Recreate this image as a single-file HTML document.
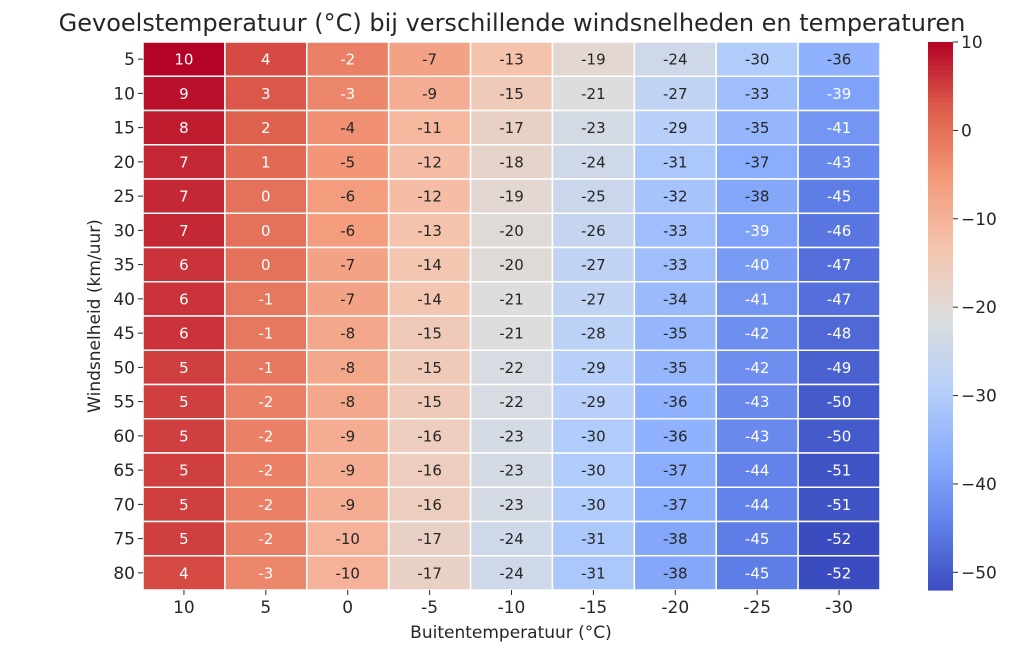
<!DOCTYPE html>
<html><head><meta charset="utf-8"><style>
body{margin:0;background:#fff;font-family:"Liberation Sans","DejaVu Sans",sans-serif}
</style></head><body>
<svg id="chart" width="1024" height="655" viewBox="0 0 1024 655" xmlns="http://www.w3.org/2000/svg" font-family="DejaVu Sans, Liberation Sans, sans-serif">
<text x="512" y="31" text-anchor="middle" font-size="24" fill="#262626">Gevoelstemperatuur (°C) bij verschillende windsnelheden en temperaturen</text>
<text x="511" y="638" text-anchor="middle" font-size="17" fill="#262626">Buitentemperatuur (°C)</text>
<text transform="translate(100,316) rotate(-90)" text-anchor="middle" font-size="17" fill="#262626">Windsnelheid (km/uur)</text>
<g id="cells"></g><g id="xt"></g><g id="yt"></g><g id="cb"></g>
</svg>
<script>
const temps=[10,5,0,-5,-10,-15,-20,-25,-30];
const winds=[5,10,15,20,25,30,35,40,45,50,55,60,65,70,75,80];
const values=[
[10,4,-2,-7,-13,-19,-24,-30,-36],
[9,3,-3,-9,-15,-21,-27,-33,-39],
[8,2,-4,-11,-17,-23,-29,-35,-41],
[7,1,-5,-12,-18,-24,-31,-37,-43],
[7,0,-6,-12,-19,-25,-32,-38,-45],
[7,0,-6,-13,-20,-26,-33,-39,-46],
[6,0,-7,-14,-20,-27,-33,-40,-47],
[6,-1,-7,-14,-21,-27,-34,-41,-47],
[6,-1,-8,-15,-21,-28,-35,-42,-48],
[5,-1,-8,-15,-22,-29,-35,-42,-49],
[5,-2,-8,-15,-22,-29,-36,-43,-50],
[5,-2,-9,-16,-23,-30,-36,-43,-50],
[5,-2,-9,-16,-23,-30,-37,-44,-51],
[5,-2,-9,-16,-23,-30,-37,-44,-51],
[5,-2,-10,-17,-24,-31,-38,-45,-52],
[4,-3,-10,-17,-24,-31,-38,-45,-52]];
const cbTicks=[10,0,-10,-20,-30,-40,-50];
const vmin=-52,vmax=10;
const X0=143,X1=880,Y0=42,Y1=590;
const cw=(X1-X0)/temps.length,ch=(Y1-Y0)/winds.length;
const stops=[[0,[59,76,192]],[0.125,[98,130,234]],[0.25,[141,176,254]],[0.375,[184,208,249]],[0.5,[221,221,221]],[0.625,[245,196,173]],[0.75,[244,154,123]],[0.875,[222,96,77]],[1,[180,4,38]]];
function cmap(t){t=Math.max(0,Math.min(1,t));for(let i=1;i<stops.length;i++){if(t<=stops[i][0]){const a=stops[i-1],b=stops[i],f=(t-a[0])/(b[0]-a[0]);return a[1].map((v,k)=>Math.round(v+(b[1][k]-v)*f));}}return stops[stops.length-1][1];}
function lum(c){const l=c.map(v=>{v/=255;return v<=0.03928?v/12.92:Math.pow((v+0.055)/1.055,2.4)});return 0.2126*l[0]+0.7152*l[1]+0.0722*l[2];}
const NS="http://www.w3.org/2000/svg";
function mk(tag,attrs,parent){const e=document.createElementNS(NS,tag);for(const k in attrs)e.setAttribute(k,attrs[k]);parent.appendChild(e);return e;}
const xs=i=>X0+i*cw, ys=j=>Y0+j*ch;
const cells=document.getElementById('cells');
values.forEach((row,j)=>row.forEach((v,i)=>{
 const c=cmap((v-vmin)/(vmax-vmin));
 const r=mk('rect',{x:xs(i),y:ys(j),width:cw,height:ch,fill:`rgb(${c})`,stroke:'#fff','stroke-width':1.5},cells);
 
 
 const t=mk('text',{x:xs(i)+cw/2,y:ys(j)+ch/2+5.5,'text-anchor':'middle','font-size':15,fill:lum(c)>0.38?'#262626':'#ffffff'},cells);
 t.textContent=v;
 
 
}));
const xt=document.getElementById('xt');
temps.forEach((v,i)=>{
 mk('line',{x1:xs(i)+cw/2,x2:xs(i)+cw/2,y1:Y1,y2:Y1+5,stroke:'#262626'},xt);
 const t=mk('text',{x:xs(i)+cw/2,y:Y1+23,'text-anchor':'middle','font-size':17,fill:'#262626'},xt);
 t.textContent=v;
 
 
});
const yt=document.getElementById('yt');
winds.forEach((v,j)=>{
 mk('line',{x1:X0-5,x2:X0,y1:ys(j)+ch/2,y2:ys(j)+ch/2,stroke:'#262626'},yt);
 const t=mk('text',{x:X0-8,y:ys(j)+ch/2+6,'text-anchor':'end','font-size':17,fill:'#262626'},yt);
 t.textContent=v;
 
 
});
const cb=document.getElementById('cb');
const CX=928,CW=25,n=120;
const cy=v=>Y1-(v-vmin)/(vmax-vmin)*(Y1-Y0);
for(let k=0;k<n;k++){const v0=vmin+(vmax-vmin)*k/n,v1=vmin+(vmax-vmin)*(k+1)/n;
 mk('rect',{x:CX,y:cy(v1),width:CW,height:cy(v0)-cy(v1)+0.6,fill:`rgb(${cmap((v0+v1)/2/(vmax-vmin)-vmin/(vmax-vmin))})`},cb);}


cbTicks.forEach(v=>{
 mk('line',{x1:CX+CW,x2:CX+CW+5,y1:cy(v),y2:cy(v),stroke:'#262626'},cb);
 const t=mk('text',{x:CX+CW+8,y:cy(v)+6,'font-size':17,fill:'#262626'},cb);
 t.textContent=v<0?'\u2212'+(-v):v;
 
 
});
</script>
</body></html>
